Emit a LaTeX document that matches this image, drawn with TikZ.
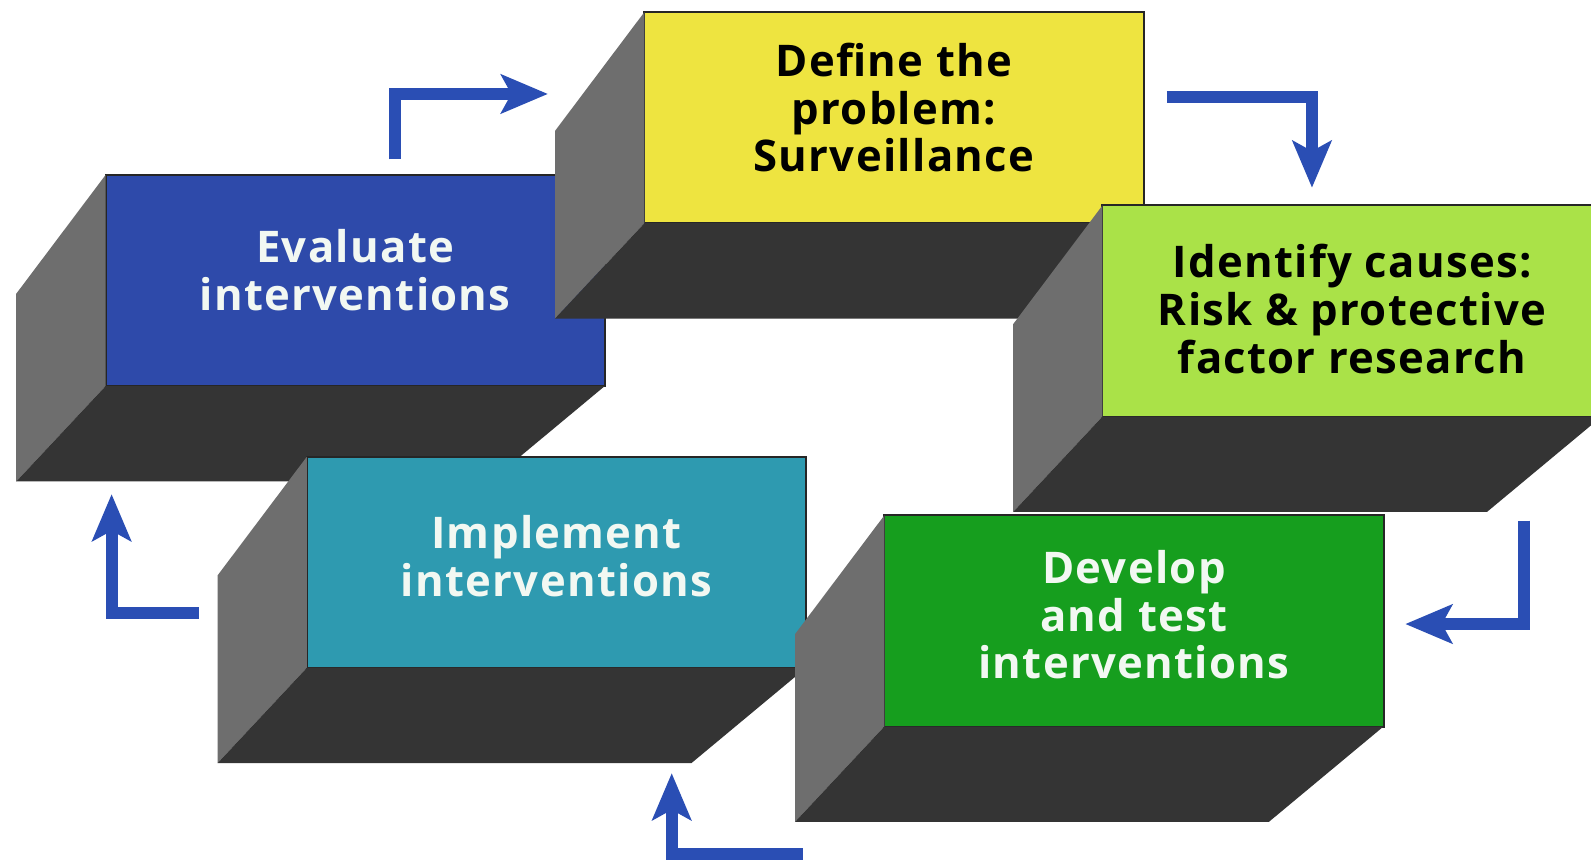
\documentclass[tikz,border=0pt]{standalone}
\usepackage{fontspec}
\setmainfont{Open Sans}[LetterSpace=3]
\usetikzlibrary{arrows.meta}
\definecolor{evalblue}{RGB}{46,74,170}
\definecolor{defyellow}{RGB}{238,228,64}
\definecolor{idgreen}{RGB}{170,226,72}
\definecolor{impteal}{RGB}{46,154,176}
\definecolor{devgreen}{RGB}{22,158,30}
\definecolor{sidegray}{RGB}{110,110,110}
\definecolor{bottomdark}{RGB}{52,52,52}
\definecolor{arrowblue}{RGB}{42,78,180}
\definecolor{lighttext}{RGB}{242,248,242}
\tikzset{
  face/.style={draw=black!85, line width=2pt, rectangle, outer sep=0pt,
    minimum width=492pt, minimum height=208pt, inner sep=0pt},
  facetext/.style={inner sep=0pt, align=center,
    font=\fontsize{43}{47}\selectfont\bfseries},
  sideface/.style={fill=sidegray},
  bottomface/.style={fill=bottomdark},
  flow/.style={draw=arrowblue, line width=12pt,
    -{Stealth[length=46pt,width=38pt,inset=10pt]}}
}
\newcommand\boxsides[1]{%
  \fill[sideface] (#1.north west) -- (#1.south west)
     -- ([shift={(-88,94)}]#1.south west) -- ([shift={(-88,117)}]#1.north west) -- cycle;
  \fill[bottomface] (#1.south west) -- (#1.south east)
     -- ([shift={(-113,94)}]#1.south east) -- ([shift={(-88,94)}]#1.south west) -- cycle;
}
\begin{document}
\begin{tikzpicture}[x=1pt,y=-1pt]
\fill[white] (0,0) rectangle (1568,847);
\clip (0,0) rectangle (1568,847);

% Evaluate
\node[face, fill=evalblue] (eval) at (350,276.5) {};
\boxsides{eval}
\node[facetext, text=lighttext] (evalt) at ([shift={(0,-10)}]eval.center)
  {Evaluate\\interventions};
% Define
\node[face, fill=defyellow] (define) at (881,116) {};
\boxsides{define}
\node[facetext, text=black] (definet) at ([shift={(0,-10)}]define.center)
  {Define the\\problem:\\Surveillance};
% Identify
\node[face, fill=idgreen] (identify) at (1332.5,306.5) {};
\boxsides{identify}
\node[facetext, text=black] (identifyt) at ([shift={(0,-2)}]identify.center)
  {Identify causes:\\Risk \& protective\\factor research};
% Implement
\node[face, fill=impteal] (implement) at (548.5,554) {};
\boxsides{implement}
\node[facetext, text=lighttext] (implementt) at ([shift={(0,-6)}]implement.center)
  {Implement\\interventions};
% Develop
\node[face, fill=devgreen] (develop) at (1117.5,612) {};
\boxsides{develop}
\node[facetext, text=lighttext] (developt) at ([shift={(0,-6)}]develop.center)
  {Develop\\and test\\interventions};

% arrows
\coordinate (a1s) at (389,157);   \coordinate (a1t) at (540,92.6);
\coordinate (a2s) at (1150,95.6); \coordinate (a2t) at (1293,185);
\coordinate (a3s) at (1502,513);  \coordinate (a3t) at (1385,615);
\coordinate (a4s) at (791,842);   \coordinate (a4t) at (662,762);
\coordinate (a5s) at (196,604);   \coordinate (a5t) at (110,487);
\draw[flow] (a1s) |- (a1t);
\draw[flow] (a2s) -| (a2t);
\draw[flow] (a3s) |- (a3t);
\draw[flow] (a4s) -| (a4t);
\draw[flow] (a5s) -| (a5t);
\end{tikzpicture}
\end{document}
